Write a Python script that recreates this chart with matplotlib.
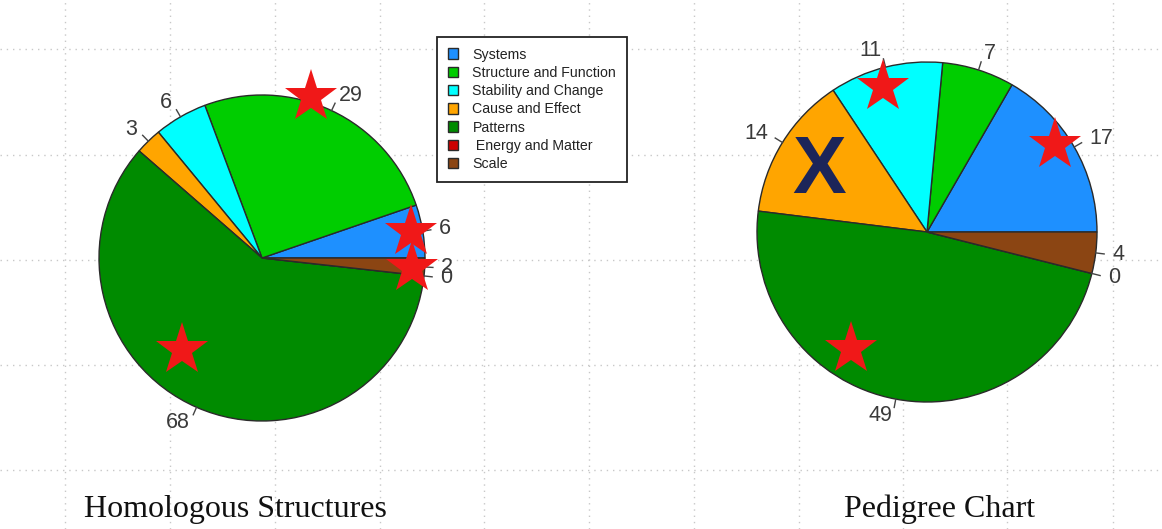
"""Crosscutting concepts tallied for two student tasks, drawn as R-style pies."""

import numpy as np
import matplotlib
matplotlib.use("Agg")
import matplotlib.pyplot as plt

# ============================================================================
# DATA
# ============================================================================

concepts = ["Systems", "Structure and Function", "Stability and Change",
            "Cause and Effect", "Patterns", " Energy and Matter", "Scale"]
concept_colors = ["#1E90FF", "#00CD00", "#00FFFF", "#FFA500",
                  "#008B00", "#CD0000", "#8B4513"]

homologous_counts = [6, 29, 6, 3, 68, 0, 2]
pedigree_counts = [17, 7, 11, 14, 49, 0, 4]

chart_titles = ["Homologous Structures", "Pedigree Chart"]

# annotation marks drawn over the pies: (angle in degrees, fraction of radius)
homologous_stars = [(73, 1.03), (10, 0.93), (-4, 0.92), (229, 0.75)]
pedigree_stars = [(107, 0.89), (34, 0.91), (237, 0.82)]
pedigree_cross = (148, 0.75)

# ============================================================================
# FIGURE (one axes in pixel units, origin bottom-left)
# ============================================================================

W, H = 1162, 529
fig = plt.figure(figsize=(W / 100, H / 100), dpi=100)
ax = fig.add_axes([0, 0, 1, 1])

pie_centers = [(262, H - 258), (927, H - 232)]
pie_radii = [163, 170]


def draw_pie(counts, center, radius):
    wedges, _ = ax.pie(
        counts,
        colors=concept_colors,
        startangle=0,
        counterclock=True,
        center=center,
        radius=radius,
        wedgeprops=dict(edgecolor="#2a2a2a", linewidth=1.0),
    )
    # R pie() labelling: tick from r to 1.05r, text at 1.1r
    for w, n in zip(wedges, counts):
        a = np.deg2rad((w.theta1 + w.theta2) / 2)
        c, s = np.cos(a), np.sin(a)
        ax.plot([center[0] + radius * c, center[0] + 1.05 * radius * c],
                [center[1] + radius * s, center[1] + 1.05 * radius * s],
                color="#444444", lw=1.0, zorder=3)
        ax.text(center[0] + 1.1 * radius * c, center[1] + 1.1 * radius * s,
                str(n), ha="left" if c >= 0 else "right", va="center",
                fontsize=15.5, color="#3a3a3a", family="Liberation Sans")
    return wedges


def polar(center, radius, ang, frac):
    a = np.deg2rad(ang)
    return (center[0] + frac * radius * np.cos(a),
            center[1] + frac * radius * np.sin(a))


wedges = draw_pie(homologous_counts, pie_centers[0], pie_radii[0])
draw_pie(pedigree_counts, pie_centers[1], pie_radii[1])

# stars and cross
for (ang, frac) in homologous_stars:
    x, y = polar(pie_centers[0], pie_radii[0], ang, frac)
    ax.plot(x, y, marker="*", markersize=40, color="#F01818",
            markeredgewidth=0, zorder=5)
for (ang, frac) in pedigree_stars:
    x, y = polar(pie_centers[1], pie_radii[1], ang, frac)
    ax.plot(x, y, marker="*", markersize=40, color="#F01818",
            markeredgewidth=0, zorder=5)
x, y = polar(pie_centers[1], pie_radii[1], *pedigree_cross)
ax.text(x, y - 29, "X", ha="center", va="baseline", fontsize=58,
        fontweight="bold", color="#1C2559", family="Liberation Sans", zorder=5)

# titles below each pie
for title, cx in zip(chart_titles, [235, 940]):
    ax.text(cx, H - 517, title, ha="center", va="baseline", fontsize=23,
            family="Liberation Serif", color="#111111")

# ============================================================================
# AXES, GRID, LEGEND
# ============================================================================

ax.set_xlim(0, W)
ax.set_ylim(0, H)
ax.set_aspect("auto")
ax.set_frame_on(False)
ax.set_xticks([65, 170, 275, 380, 484, 589, 694, 799, 903, 1007, 1113])
ax.set_yticks([H - 49, H - 155, H - 260, H - 365, H - 470])
ax.tick_params(length=0, labelbottom=False, labelleft=False)
ax.set_axisbelow(True)
ax.grid(True, color="#c8c8c8", linestyle=(0, (1, 3.5)), linewidth=1.0)

leg = ax.legend(
    wedges, concepts,
    loc="upper left",
    bbox_to_anchor=(437 / W, 1 - 37 / H),
    borderaxespad=0,
    fancybox=False,
    edgecolor="#222222",
    framealpha=1,
    prop={"family": "Liberation Sans", "size": 10.2},
    handlelength=0.75,
    handleheight=0.75,
    handletextpad=1.0,
    labelspacing=0.3,
    borderpad=0.75,
)
leg.get_frame().set_linewidth(1.3)
for t in leg.get_texts():
    t.set_color("#222222")

fig.savefig("out.png", dpi=100, facecolor="white")
